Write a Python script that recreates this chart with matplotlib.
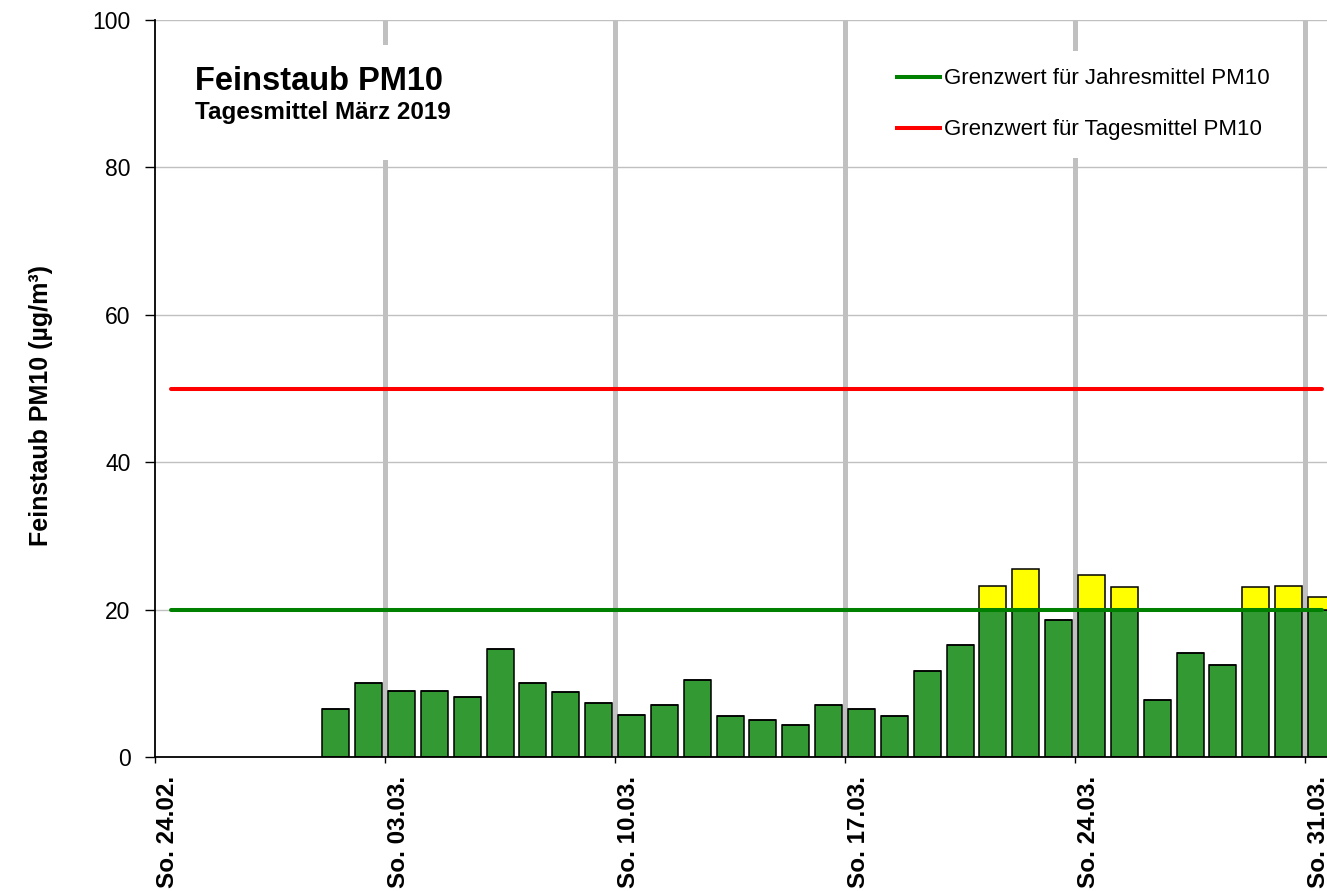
import datetime as dt
import matplotlib
matplotlib.use("Agg")
import matplotlib.pyplot as plt
import matplotlib.dates as mdates
from matplotlib.patches import Rectangle
from matplotlib.lines import Line2D
from matplotlib.transforms import ScaledTranslation

plt.rcParams['font.family'] = ['Liberation Sans', 'DejaVu Sans']

# Tagesmittel PM10, 01.03. - 31.03.2019
tage = [dt.datetime(2019, 3, d) for d in range(1, 32)]
pm10 = [6.5, 10.0, 9.0, 9.0, 8.2, 14.6, 10.0, 8.8, 7.3, 5.7,
        7.1, 10.4, 5.5, 5.0, 4.4, 7.1, 6.5, 5.5, 11.7, 15.2,
        23.2, 25.5, 18.6, 24.7, 23.0, 7.7, 14.1, 12.5, 23.0, 23.2,
        21.7]
sonntage = [dt.datetime(2019, 2, 24), dt.datetime(2019, 3, 3), dt.datetime(2019, 3, 10),
            dt.datetime(2019, 3, 17), dt.datetime(2019, 3, 24), dt.datetime(2019, 3, 31)]
grenz_jahr = 20
grenz_tag = 50

halb = dt.timedelta(hours=12)
x = [t + halb for t in tage]
unten = [min(v, grenz_jahr) for v in pm10]
oben = [max(v - grenz_jahr, 0) for v in pm10]

W, H = 1327, 891
fig = plt.figure(figsize=(W / 100, H / 100), dpi=100)
ax = fig.add_axes([155 / W, 1 - 757 / H, 1 - 155 / W, 737 / H])

# Gitter
for y in [20, 40, 60, 80, 100]:
    ax.axhline(y, color='#c0c0c0', lw=1.0, zorder=0.5)
for s in sonntage[1:]:
    ax.axvline(s, color='#c0c0c0', lw=3.6, zorder=0.6)

# Balken
ax.bar(x, unten, width=0.82, color='#339933', edgecolor='black', lw=1.1, zorder=2)
ax.bar(x, oben, bottom=unten, width=0.82, color='#ffff00', edgecolor='black', lw=1.1, zorder=2)

# Grenzwerte
x_linie = [sonntage[0] + halb, tage[-1] + halb]
ax.plot(x_linie, [grenz_jahr] * 2, color='#008000', lw=2.9, solid_capstyle='round', zorder=3)
ax.plot(x_linie, [grenz_tag] * 2, color='#ff0000', lw=2.9, solid_capstyle='round', zorder=3)

ax.set_xlim(sonntage[0], tage[-1] + dt.timedelta(hours=16))
ax.set_ylim(0, 100)
ax.set_yticks([0, 20, 40, 60, 80, 100])
ax.set_xticks(sonntage)
ax.xaxis.set_major_formatter(mdates.DateFormatter('So. %d.%m.'))
ax.tick_params(axis='x', labelrotation=90, labelsize=17.5, direction='out', length=4.5, width=1, pad=9)
ax.tick_params(axis='y', labelsize=16.5, direction='out', length=7, width=1, pad=10.5)
verschiebung = ScaledTranslation(13 / 100, 0, fig.dpi_scale_trans)
for lab in ax.get_xticklabels():
    lab.set_fontweight('bold')
    lab.set_transform(lab.get_transform() + verschiebung)
for sp in ['top', 'right']:
    ax.spines[sp].set_visible(False)
ax.spines['left'].set_linewidth(1.3)
ax.spines['bottom'].set_linewidth(1.3)

fig.text(41 / W, 1 - 405 / H, 'Feinstaub PM10 (µg/m³)', rotation=90,
         fontsize=18, fontweight='bold', ha='center', va='center')

# Titelkasten
ax.add_patch(Rectangle((0.021, 0.81), 0.26, 0.156, transform=ax.transAxes,
                       facecolor='white', edgecolor='none', zorder=4))
ax.text((195 - 155) / 1172, (757 - 90) / 737, 'Feinstaub PM10',
        transform=ax.transAxes, fontsize=23.5, fontweight='bold', va='baseline', zorder=5)
ax.text((195 - 155) / 1172, (757 - 119) / 737, 'Tagesmittel März 2019',
        transform=ax.transAxes, fontsize=17.5, fontweight='bold', va='baseline', zorder=5)

# Legende
handles = [Line2D([], [], color='#008000', lw=2.9),
           Line2D([], [], color='#ff0000', lw=2.9)]
labels = ['Grenzwert für Jahresmittel PM10', 'Grenzwert für Tagesmittel PM10']
leg = ax.legend(handles, labels, loc='upper left', bbox_to_anchor=((880 - 155) / 1172, (757 - 51) / 737),
                fontsize=16, frameon=True, framealpha=1, facecolor='white', edgecolor='none',
                handlelength=1.94, handletextpad=0.18, labelspacing=1.35, borderpad=0.78,
                borderaxespad=0, fancybox=False)
leg.set_zorder(5)

fig.savefig('out.png', dpi=100)
